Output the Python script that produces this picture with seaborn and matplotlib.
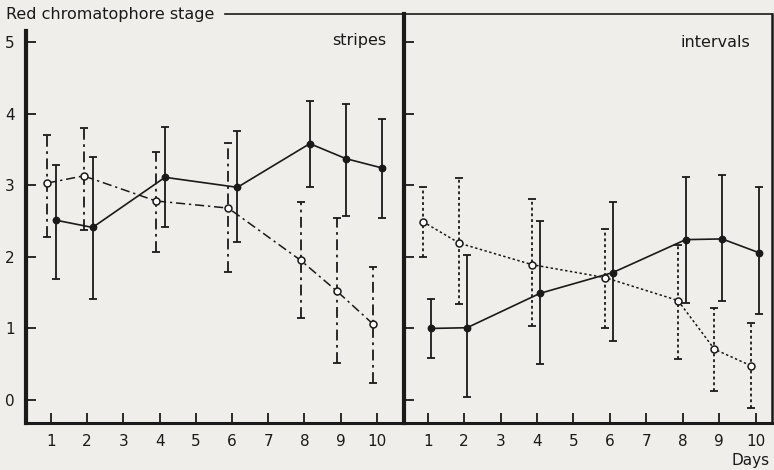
import numpy as np
import pandas as pd
import matplotlib.pyplot as plt
import seaborn as sns

# days of observation
days = [1, 2, 4, 6, 8, 9, 10]

# stripes: filled circles (solid) and open circles (dash-dot)
stripes_filled = [2.51, 2.41, 3.11, 2.97, 3.58, 3.37, 3.24]
stripes_filled_hi = [3.28, 3.40, 3.81, 3.76, 4.17, 4.14, 3.93]
stripes_filled_lo = [1.69, 1.41, 2.42, 2.20, 2.98, 2.57, 2.54]
stripes_open = [3.03, 3.13, 2.78, 2.68, 1.95, 1.52, 1.06]
stripes_open_hi = [3.70, 3.80, 3.47, 3.59, 2.76, 2.54, 1.86]
stripes_open_lo = [2.28, 2.37, 2.07, 1.79, 1.14, 0.52, 0.24]

# intervals: filled circles (solid) and open circles (dotted)
intervals_filled = [1.00, 1.01, 1.49, 1.78, 2.24, 2.25, 2.06]
intervals_filled_hi = [1.41, 2.02, 2.50, 2.77, 3.12, 3.14, 2.98]
intervals_filled_lo = [0.59, 0.04, 0.51, 0.82, 1.36, 1.38, 1.20]
intervals_open = [2.49, 2.19, 1.89, 1.71, 1.39, 0.71, 0.48]
intervals_open_hi = [2.98, 3.10, 2.81, 2.39, 2.16, 1.28, 1.08]
intervals_open_lo = [2.00, 1.34, 1.04, 1.00, 0.57, 0.12, -0.11]

bg = '#efeeea'
sns.set_theme(style='white')
plt.rcParams['font.family'] = ['DejaVu Sans']
plt.rcParams['axes.facecolor'] = bg
plt.rcParams['figure.facecolor'] = bg

fig = plt.figure(figsize=(7.74, 4.70), dpi=100)
ax1 = fig.add_axes([26 / 774, 1 - 423 / 470, 379 / 774, 409 / 470])
ax2 = fig.add_axes([404 / 774, 1 - 423 / 470, 368 / 774, 409 / 470])


def draw_series(ax, y, hi, lo, off, filled, ls):
    x = np.array(days) + off
    y = np.array(y)
    err = [y - np.array(lo), np.array(hi) - y]
    eb = ax.errorbar(x, y, yerr=err, fmt='none', ecolor='#1a1a1a',
                     elinewidth=1.3, capsize=2.8, capthick=1.3, zorder=2)
    eb[2][0].set_linestyle(ls)
    df = pd.DataFrame({'day': x, 'stage': y})
    sns.lineplot(data=df, x='day', y='stage', ax=ax, color='#1a1a1a',
                 linewidth=1.2 if filled else 1.1, marker='o',
                 markersize=4.5 if filled else 5,
                 markerfacecolor='#1a1a1a' if filled else 'white',
                 markeredgecolor='#1a1a1a', markeredgewidth=1.1,
                 linestyle='-' if filled else ls, zorder=3)


draw_series(ax1, stripes_filled, stripes_filled_hi, stripes_filled_lo, 0.15, True, '-')
draw_series(ax1, stripes_open, stripes_open_hi, stripes_open_lo, -0.1, False, (0, (6, 2.5, 1.5, 2.5)))
draw_series(ax2, intervals_filled, intervals_filled_hi, intervals_filled_lo, 0.08, True, '-')
draw_series(ax2, intervals_open, intervals_open_hi, intervals_open_lo, -0.13, False, (0, (1.6, 1.6)))

for ax in (ax1, ax2):
    ax.set_ylim(-0.32, 5.39)
    ax.set_xticks(range(1, 11))
    ax.set_yticks(range(0, 6))
    ax.tick_params(direction='in', length=7, width=1.3, color='#1a1a1a',
                   labelsize=11, labelcolor='#1a1a1a', pad=8,
                   left=True, bottom=True)
    ax.set_xlabel('')
    ax.set_ylabel('')
    ax.grid(False)

ax1.set_xlim(0.31, 10.78)
ax2.set_xlim(0.35, 10.45)
ax2.set_yticklabels([])

# left panel frame
ax1.spines['left'].set_linewidth(3)
ax1.spines['left'].set_bounds(-0.32, 5.15)
ax1.spines['bottom'].set_linewidth(2.2)
ax1.spines['right'].set_visible(False)
ax1.spines['top'].set_linewidth(1.2)
ax1.spines['top'].set_bounds(5.82, 10.78)
for s in ax1.spines.values():
    s.set_color('#1a1a1a')

# right panel frame
ax2.spines['left'].set_linewidth(3)
ax2.spines['bottom'].set_linewidth(2.2)
ax2.spines['right'].set_linewidth(1.8)
ax2.spines['top'].set_linewidth(1.2)
for s in ax2.spines.values():
    s.set_color('#1a1a1a')

ax1.text(0.95, 0.935, 'stripes', transform=ax1.transAxes, ha='right',
         va='center', fontsize=11.5, color='#1a1a1a')
ax2.text(0.94, 0.93, 'intervals', transform=ax2.transAxes, ha='right',
         va='center', fontsize=11.5, color='#1a1a1a')

fig.text(6 / 774, 1 - 15 / 470, 'Red chromatophore stage', ha='left',
         va='center', fontsize=11.5, color='#1a1a1a')
fig.text(770 / 774, 1 - 460 / 470, 'Days', ha='right', va='center',
         fontsize=11, color='#1a1a1a')

fig.savefig('out.png', dpi=100, facecolor=bg)
